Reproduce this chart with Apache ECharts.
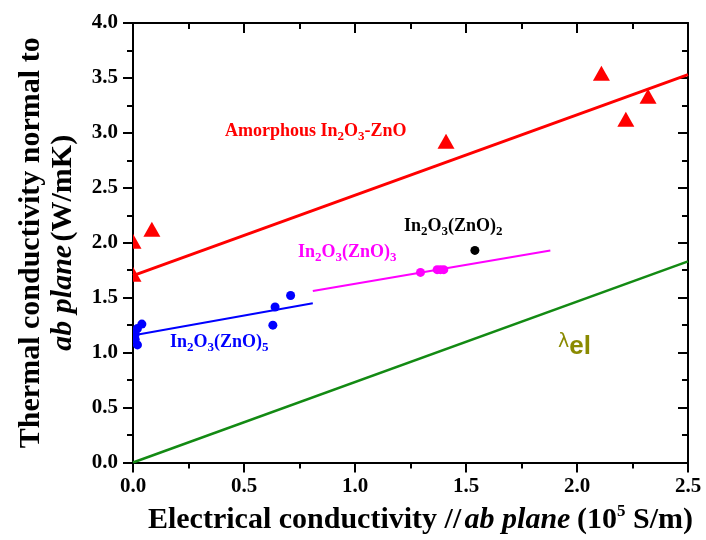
<!DOCTYPE html>
<html>
<head>
<meta charset="utf-8">
<script src="https://cdn.jsdelivr.net/npm/echarts@6/dist/echarts.min.js"></script>
<style>
  html, body { margin: 0; padding: 0; background: #fff; }
  #chart { width: 706px; height: 540px; }
</style>
</head>
<body>
<div id="chart"></div>
<script>
  // points: [sigma (10^5 S/m), kappa (W/mK)]
  const amorphousPts = [[0, 2.0], [0, 1.7], [0.085, 2.11], [1.41, 2.91], [2.11, 3.53], [2.22, 3.11], [2.32, 3.32]];
  const amorphousFit = [[0, 1.70], [2.5, 3.53]];
  const zno5Pts = [[0.01, 1.17], [0.01, 1.12], [0.02, 1.07], [0.02, 1.22], [0.04, 1.26], [0.63, 1.25], [0.64, 1.415], [0.71, 1.52]];
  const zno5Fit = [[0.01, 1.16], [0.81, 1.45]];
  const zno3Pts = [[1.295, 1.73], [1.37, 1.755], [1.385, 1.755], [1.40, 1.755]];
  const zno3Fit = [[0.81, 1.56], [1.88, 1.93]];
  const zno2Pts = [[1.54, 1.93]];
  const lambdaEl = [[0, 0], [2.5, 1.83]];

  const FONT = '"Liberation Serif", "Times New Roman", serif';

  const chart = echarts.init(document.getElementById('chart'));

  const triangle = (color) => (params, api) => {
    const p = api.coord([api.value(0), api.value(1)]);
    return {
      type: 'polygon',
      shape: { points: [[p[0], p[1] - 9], [p[0] - 8.5, p[1] + 6], [p[0] + 8.5, p[1] + 6]] },
      style: { fill: color }
    };
  };
  const dot = (color) => (params, api) => {
    const p = api.coord([api.value(0), api.value(1)]);
    return { type: 'circle', shape: { cx: p[0], cy: p[1], r: 4.5 }, style: { fill: color } };
  };

  const fitLine = (data, color, width) => ({
    type: 'line', data: data, showSymbol: false, silent: true,
    lineStyle: { color: color, width: width }, z: 2
  });
  const markers = (data, render) => ({
    type: 'custom', data: data, renderItem: render, clip: true, silent: true, z: 3
  });

  // graphic text uses zrender styles, so colour goes in fill
  const formulaText = (left, top, text, color) => ({
    type: 'text', left: left, top: top,
    style: {
      text: text,
      rich: {
        m: { fill: color, fontFamily: FONT, fontWeight: 'bold', fontSize: 18 },
        s: { fill: color, fontFamily: FONT, fontWeight: 'bold', fontSize: 13, padding: [11, 0, 0, 0] }
      }
    }
  });

  const axisLine = { show: true, onZero: false, lineStyle: { color: '#000', width: 2 } };
  const tickStyle = { color: '#000', width: 2 };

  const option = {
    backgroundColor: '#fff',
    animation: false,
    grid: { left: 133, right: 18, top: 23, bottom: 77 },
    xAxis: [{
      type: 'value', min: 0, max: 2.5, interval: 0.5,
      axisLine: axisLine,
      axisTick: { show: true, inside: false, length: 10, lineStyle: tickStyle },
      minorTick: { show: true, splitNumber: 2, length: 6, lineStyle: tickStyle },
      splitLine: { show: false },
      axisLabel: {
        margin: 14, color: '#000', fontFamily: FONT, fontWeight: 'bold', fontSize: 21,
        formatter: (v) => v.toFixed(1)
      },
      name: '{b|Electrical conductivity //} {i|ab plane}  {b|(10}{sup|5}{b| S/m)}',
      nameLocation: 'middle', nameGap: 41,
      nameTextStyle: {
        padding: [0, 0, 0, 20],
        rich: {
          b: { fontFamily: FONT, fontWeight: 'bold', fontSize: 30, color: '#000' },
          i: { fontFamily: FONT, fontWeight: 'bold', fontStyle: 'italic', fontSize: 30, color: '#000' },
          sup: { fontFamily: FONT, fontWeight: 'bold', fontSize: 17, color: '#000', padding: [0, 0, 16, 0] }
        }
      }
    }, {
      type: 'value', position: 'top', min: 0, max: 2.5, interval: 0.5,
      axisLine: axisLine,
      axisTick: { show: true, inside: true, length: 10, lineStyle: tickStyle },
      minorTick: { show: true, splitNumber: 2, length: 6, lineStyle: tickStyle },
      splitLine: { show: false }, axisLabel: { show: false }
    }],
    yAxis: [{
      type: 'value', min: 0, max: 4, interval: 0.5,
      axisLine: axisLine,
      axisTick: { show: true, inside: false, length: 10, lineStyle: tickStyle },
      minorTick: { show: true, splitNumber: 2, length: 6, lineStyle: tickStyle },
      splitLine: { show: false },
      axisLabel: {
        margin: 15, color: '#000', fontFamily: FONT, fontWeight: 'bold', fontSize: 21,
        formatter: (v) => v.toFixed(1)
      },
      name: '{b|Thermal conductivity normal to}\n{i|ab plane} {b|(W/mK)}',
      nameLocation: 'middle', nameGap: 54,
      nameTextStyle: {
        lineHeight: 32,
        rich: {
          b: { fontFamily: FONT, fontWeight: 'bold', fontSize: 30, color: '#000', lineHeight: 32 },
          i: { fontFamily: FONT, fontWeight: 'bold', fontStyle: 'italic', fontSize: 30, color: '#000', lineHeight: 32 }
        }
      }
    }, {
      type: 'value', position: 'right', min: 0, max: 4, interval: 0.5,
      axisLine: axisLine,
      axisTick: { show: true, inside: true, length: 10, lineStyle: tickStyle },
      minorTick: { show: true, splitNumber: 2, length: 6, lineStyle: tickStyle },
      splitLine: { show: false }, axisLabel: { show: false }
    }],
    series: [
      fitLine(lambdaEl, '#138a13', 2.5),
      fitLine(amorphousFit, '#ff0000', 3),
      fitLine(zno5Fit, '#0000ff', 2),
      fitLine(zno3Fit, '#ff00ff', 2),
      markers(amorphousPts, triangle('#ff0000')),
      markers(zno5Pts, dot('#0000ff')),
      markers(zno3Pts, dot('#ff00ff')),
      markers(zno2Pts, dot('#000000'))
    ],
    graphic: [
      formulaText(225, 122, '{m|Amorphous In}{s|2}{m|O}{s|3}{m|-ZnO}', '#ff0000'),
      formulaText(404, 217, '{m|In}{s|2}{m|O}{s|3}{m|(ZnO)}{s|2}', '#000000'),
      formulaText(298, 243, '{m|In}{s|2}{m|O}{s|3}{m|(ZnO)}{s|3}', '#ff00ff'),
      formulaText(170, 333, '{m|In}{s|2}{m|O}{s|3}{m|(ZnO)}{s|5}', '#0000ff'),
      {
        type: 'text', left: 558, top: 333,
        style: {
          text: '{l|λ}{e|el}',
          rich: {
            l: { fontFamily: '"DejaVu Sans", sans-serif', fontSize: 19, fill: '#8a8a00', padding: [0, 0, 8, 0] },
            e: { fontFamily: '"Liberation Sans", Arial, sans-serif', fontWeight: 'bold', fontSize: 26, fill: '#8a8a00' }
          }
        }
      }
    ]
  };

  chart.setOption(option);
</script>
</body>
</html>
